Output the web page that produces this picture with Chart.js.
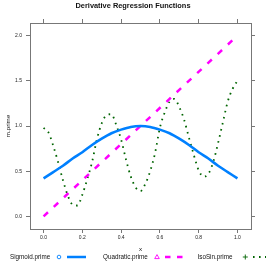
<!DOCTYPE html>
<html>
<head>
<meta charset="utf-8">
<script src="https://cdn.jsdelivr.net/npm/chart.js@4"></script>
<style>
  html, body { margin: 0; padding: 0; background: #fff; }
  #wrap { position: relative; width: 266px; height: 266px; font-family: "Liberation Sans", Arial, sans-serif; color: #111; }
  #chart { position: absolute; left: 0; top: 0; }
  .txt { position: absolute; white-space: nowrap; line-height: 1; }
  #title { left: 0; width: 266px; top: 2px; text-align: center; font-weight: bold; font-size: 7.4px; }
  .leg { top: 254px; font-size: 6.3px; }
  #keys { position: absolute; left: 0; top: 247px; }
</style>
</head>
<body>
<div id="wrap">
  <canvas id="chart" width="266" height="266"></canvas>
  <div id="title" class="txt">Derivative Regression Functions</div>
  <div class="txt leg" style="left:10px">Sigmoid.prime</div>
  <div class="txt leg" style="left:103px">Quadratic.prime</div>
  <div class="txt leg" style="left:197.5px">IsoSin.prime</div>
  <svg id="keys" width="266" height="20">
    <circle cx="59" cy="10" r="1.8" fill="none" stroke="#0080ff" stroke-width="0.9"/>
    <line x1="67" y1="10" x2="86" y2="10" stroke="#0080ff" stroke-width="2.5"/>
    <polygon points="157,7.6 159.3,11.6 154.7,11.6" fill="none" stroke="#ff00ff" stroke-width="0.9"/>
    <line x1="165" y1="10" x2="183" y2="10" stroke="#ff00ff" stroke-width="2.5" stroke-dasharray="5.5 6.5"/>
    <path d="M242.8 10 H247.8 M245.3 7.5 V12.5" stroke="#006400" stroke-width="0.9"/>
    <line x1="253" y1="10" x2="266" y2="10" stroke="#006400" stroke-width="1.8" stroke-dasharray="1.6 4.4"/>
  </svg>
</div>
<script>
// Derivative regression functions (lattice style)

const xTicks = [0, 0.2, 0.4, 0.6, 0.8, 1.0];
const yTicks = [0, 0.5, 1.0, 1.5, 2.0];

const sigmoidX = [0, 0.05, 0.1, 0.15, 0.2, 0.25, 0.3, 0.35, 0.4, 0.45, 0.5,
                  0.55, 0.6, 0.65, 0.7, 0.75, 0.8, 0.85, 0.9, 0.95, 1.0];
const sigmoidPrime = [0.42, 0.49, 0.56, 0.64, 0.71, 0.79, 0.86, 0.92, 0.96, 0.99, 1.00,
                      0.99, 0.96, 0.92, 0.86, 0.79, 0.71, 0.64, 0.56, 0.49, 0.42];

const quadraticX = [0, 1];
const quadraticPrime = [0, 2];

const isoSinX = [0, 0.025, 0.05, 0.075, 0.1, 0.125, 0.15, 0.175, 0.2, 0.225,
                 0.25, 0.275, 0.3, 0.325, 0.35, 0.375, 0.4, 0.425, 0.45, 0.475,
                 0.5, 0.525, 0.55, 0.575, 0.6, 0.625, 0.65, 0.675, 0.7, 0.725,
                 0.75, 0.775, 0.8, 0.825, 0.85, 0.875, 0.9, 0.925, 0.95, 0.975, 1.0];
const isoSinPrime = [0.98, 0.93, 0.78, 0.60, 0.40, 0.23, 0.13, 0.12, 0.24, 0.41,
                     0.60, 0.85, 1.03, 1.12, 1.13, 1.01, 0.85, 0.63, 0.44, 0.32,
                     0.28, 0.36, 0.50, 0.70, 0.98, 1.15, 1.27, 1.30, 1.21, 1.07,
                     0.87, 0.68, 0.51, 0.44, 0.47, 0.60, 0.81, 1.04, 1.27, 1.41, 1.50];

const FONT = "'Liberation Sans', Arial, sans-serif";
const FRAME = "#777";

function pts(xs, ys) {
  return xs.map(function(x, i) { return { x: x, y: ys[i] }; });
}

function fixTicks(list) {
  return function(scale) {
    scale.ticks = list.map(function(v) { return { value: v }; });
  };
}

function axis(pos, list, size, showLabels, extra) {
  const horiz = pos === "top" || pos === "bottom";
  const a = {
    type: "linear",
    position: pos,
    min: horiz ? -0.07 : -0.14,
    max: horiz ? 1.07 : 2.14,
    afterBuildTicks: fixTicks(list),
    afterFit: function(scale) {
      if (horiz) scale.height = size; else scale.width = size;
    },
    border: { display: true, color: FRAME, width: 1 },
    grid: { drawOnChartArea: false, drawTicks: true, tickLength: 4, color: FRAME },
    ticks: {
      display: showLabels,
      autoSkip: false,
      maxRotation: 0,
      padding: horiz ? 2 : 4,
      color: "#222",
      font: { family: FONT, size: 5 },
      callback: function(v) { return Number(v).toFixed(1); },
    },
  };
  return Object.assign(a, extra || {});
}

new Chart(document.getElementById("chart").getContext("2d"), {
  type: "line",
  data: {
    datasets: [
      {
        label: "Sigmoid.prime",
        data: pts(sigmoidX, sigmoidPrime),
        borderColor: "#0080ff",
        borderWidth: 2.6,
        pointRadius: 0,
        tension: 0.4,
        cubicInterpolationMode: "monotone",
      },
      {
        label: "Quadratic.prime",
        data: pts(quadraticX, quadraticPrime),
        borderColor: "#ff00ff",
        borderWidth: 2.5,
        borderDash: [6, 8],
        pointRadius: 0,
      },
      {
        label: "IsoSin.prime",
        data: pts(isoSinX, isoSinPrime),
        borderColor: "#006400",
        borderWidth: 1.8,
        borderDash: [1.6, 4.6],
        pointRadius: 0,
        tension: 0.4,
        cubicInterpolationMode: "monotone",
      },
    ],
  },
  options: {
    responsive: false,
    animation: false,
    layout: { padding: 0 },
    plugins: { legend: { display: false }, title: { display: false }, tooltip: { enabled: false } },
    scales: {
      x: axis("bottom", xTicks, 37, true, {
        title: { display: true, text: "x", color: "#111", font: { family: FONT, size: 6.2 }, padding: { top: 0, bottom: 13 } },
      }),
      x2: axis("top", xTicks, 23, false),
      y: axis("left", yTicks, 30, true, {
        title: { display: true, text: "m.prime", color: "#111", font: { family: FONT, size: 6.2 }, padding: { top: 5, bottom: 0 } },
      }),
      y2: axis("right", yTicks, 15, false),
    },
  },
});
</script>
</body>
</html>
